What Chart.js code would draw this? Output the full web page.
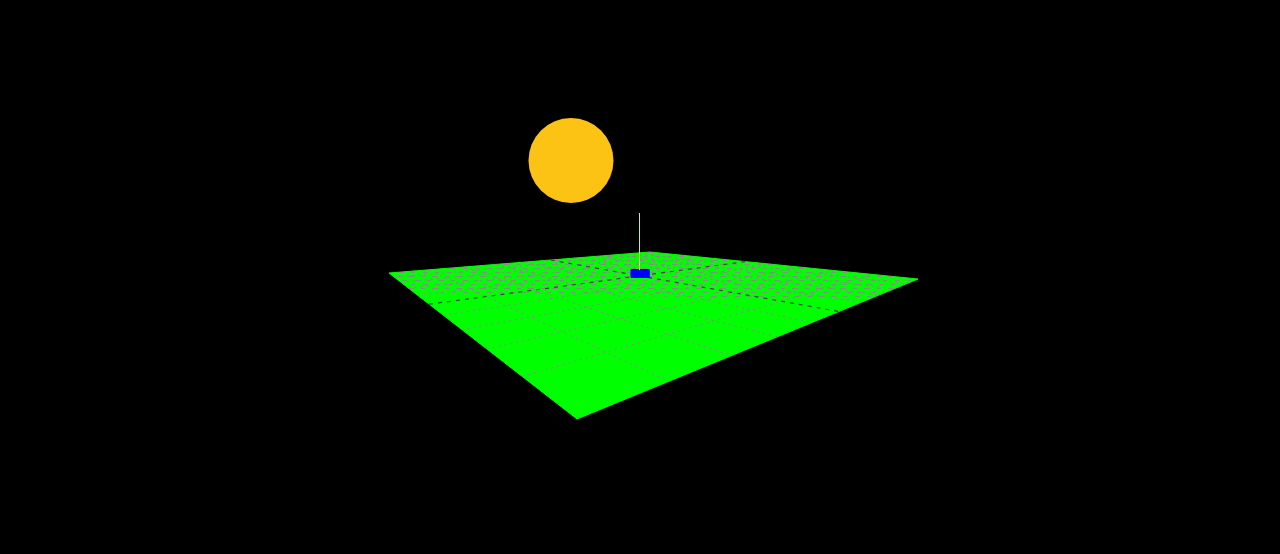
<!DOCTYPE html>
<html>
<head>
<meta charset="utf-8">
<script src="https://cdn.jsdelivr.net/npm/chart.js@4.4.1/dist/chart.umd.min.js"></script>
<style>
  html, body { margin: 0; padding: 0; background: #000; }
  #wrap { position: relative; width: 1280px; height: 554px; background: #000; }
</style>
</head>
<body>
<div id="wrap"><canvas id="c"></canvas></div>
<script>
// ---- scene data (screen coordinates) ----
const planeCorners = [[389, 273], [577, 419], [918, 279], [650, 252]];
const farBand = [[389, 273], [413.5, 292], [866, 300], [918, 279], [650, 252]];
const gridLinesA = [
  [[394.5, 277.3], [665.5, 253.5]],
  [[400.9, 282.3], [682.5, 255.3]],
  [[408.6, 288.2], [701.3, 257.2]],
  [[417.8, 295.4], [722.2, 259.3]],
  [[443.3, 315.3], [771.5, 264.2]],
  [[461.8, 329.6], [800.9, 267.2]],
  [[486.8, 349.0], [834.5, 270.6]],
  [[522.3, 376.6], [873.1, 274.5]]
];
const gridLinesB = [
  [[429.0, 269.8], [668.7, 381.4]],
  [[464.5, 266.9], [731.5, 355.6]],
  [[496.3, 264.4], [777.1, 336.9]],
  [[524.9, 262.1], [811.8, 322.6]],
  [[574.2, 258.1], [860.9, 302.4]],
  [[595.7, 256.4], [879.0, 295.0]],
  [[615.3, 254.8], [894.1, 288.8]],
  [[633.4, 253.3], [906.9, 283.5]]
];
const axisLines = [
  [[429.1, 304.2], [745.4, 261.6]],
  [[550.7, 260.0], [839.0, 311.5]]
];
const sunCenter = [571, 160.5];
const sunRadius = 42.5;
const boxCorners = [[631, 269.5], [649, 269.5], [649, 277.5], [631, 277.5]];
const mast = [[639.5, 213], [639.5, 270]];

// ---- helpers ----
const pts = arr => arr.map(p => ({ x: p[0], y: p[1] }));
const closed = arr => pts(arr.concat([arr[0]]));

function makeNoisePattern() {
  const c = document.createElement('canvas');
  c.width = 24; c.height = 12;
  const g = c.getContext('2d');
  g.fillStyle = '#8a8a8a';
  g.fillRect(0, 0, 6, 1); g.fillRect(13, 0, 4, 1);
  g.fillRect(7, 4, 5, 1); g.fillRect(19, 4, 4, 1);
  g.fillRect(3, 8, 4, 1); g.fillRect(15, 8, 5, 1);
  return g.createPattern(c, 'repeat');
}

const datasets = [];
datasets.push({
  type: 'line', data: closed(planeCorners), order: 10,
  fill: 'shape', backgroundColor: '#00ff00', borderColor: '#00ff00', borderWidth: 1,
  pointRadius: 0, tension: 0
});
datasets.push({
  type: 'line', data: closed(farBand), order: 9,
  fill: 'shape', backgroundColor: makeNoisePattern(), borderColor: 'rgba(0,0,0,0)', borderWidth: 0,
  pointRadius: 0, tension: 0
});
gridLinesA.concat(gridLinesB).forEach(seg => datasets.push({
  type: 'line', data: pts(seg), order: 8, fill: false,
  borderColor: '#8a8a8a', borderWidth: 1, borderDash: [2, 4],
  pointRadius: 0, tension: 0
}));
axisLines.forEach(seg => datasets.push({
  type: 'line', data: pts(seg), order: 7, fill: false,
  borderColor: '#404040', borderWidth: 1.2, borderDash: [4, 5],
  pointRadius: 0, tension: 0
}));
datasets.push({
  type: 'line', data: closed(boxCorners), order: 3,
  fill: 'shape', backgroundColor: '#0000ff', borderColor: '#0000ff', borderWidth: 1,
  pointRadius: 0, tension: 0
});
datasets.push({
  type: 'line', data: pts(mast), order: 2, fill: false,
  borderColor: '#d6f04c', borderWidth: 1, pointRadius: 0, tension: 0
});
datasets.push({
  type: 'scatter', data: [{ x: sunCenter[0], y: sunCenter[1] }], order: 1,
  pointRadius: sunRadius, pointBackgroundColor: '#fcc214', pointBorderWidth: 0,
  pointBorderColor: '#fcc214', showLine: false
});

new Chart(document.getElementById('c'), {
  type: 'scatter',
  data: { datasets },
  options: {
    responsive: true,
    maintainAspectRatio: false,
    animation: false,
    events: [],
    layout: { padding: 0, autoPadding: false },
    plugins: { legend: { display: false }, tooltip: { enabled: false } },
    scales: {
      x: { type: 'linear', min: 0, max: 1280, display: false },
      y: { type: 'linear', min: 0, max: 554, reverse: true, display: false }
    }
  }
});
</script>
</body>
</html>
